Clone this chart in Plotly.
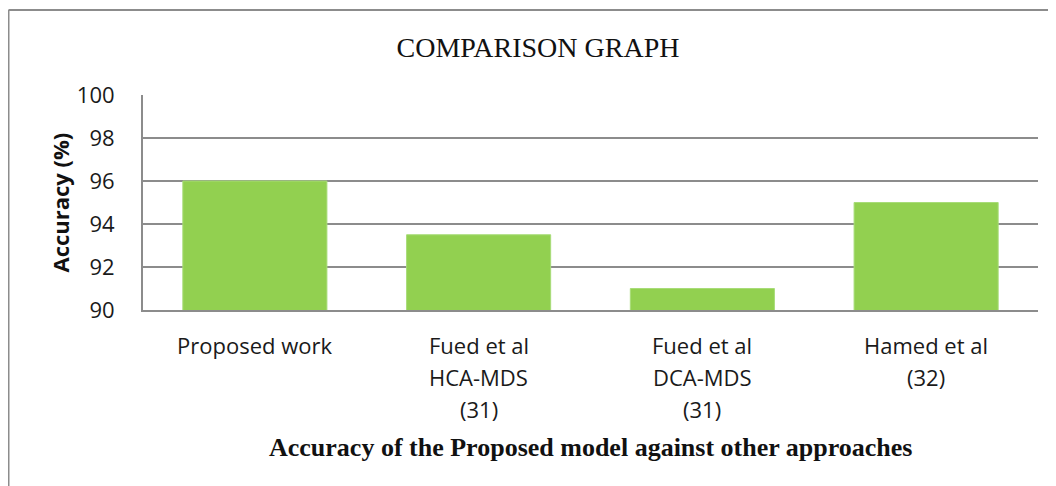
import plotly.graph_objects as go

# 数据
categories = ["Proposed work", "Fued et al HCA-MDS (31)", "Fued et al DCA-MDS (31)", "Hamed et al (32)"]
label_lines = [["Proposed work"], ["Fued et al", "HCA-MDS", "(31)"], ["Fued et al", "DCA-MDS", "(31)"], ["Hamed et al", "(32)"]]
accuracy = [96, 93.5, 91, 95]
y_ticks = [90, 92, 94, 96, 98, 100]

bar_color = "#92D050"
grid_color = "#8c8c8c"
sans = "'Open Sans', sans-serif"
serif = "'Liberation Serif', 'Times New Roman', serif"

# 页面 body 有 8px 边距，这里按 1048x478 的画布来排版
W, H = 1048, 478
L, R, T, B = 135, 18, 87, 176
pw, ph = W - L - R, H - T - B

fig = go.Figure()
fig.add_trace(go.Bar(
    x=categories,
    y=accuracy,
    marker=dict(color=bar_color, line=dict(color="#a8dc78", width=1)),
    showlegend=False
))

# 多行的类别标签（逐行放置，行距更大）
annotations = []
for cat, lines in zip(categories, label_lines):
    for i, line in enumerate(lines):
        annotations.append(dict(
            x=cat, xref="x", y=0, yref="paper",
            text=line, showarrow=False,
            yanchor="middle", yshift=-35 - i * 32,
            font=dict(family=sans, size=22, color="#1a1a1a")
        ))

annotations.append(dict(
    x=0.5, xref="paper", y=0, yref="paper",
    text="<b>Accuracy of the Proposed model against other approaches</b>",
    showarrow=False, yanchor="middle", yshift=-137,
    font=dict(family=serif, size=26, color="#111")
))
annotations.append(dict(
    x=0, xref="paper", y=0.5, yref="paper",
    text="<b>Accuracy (%)</b>", textangle=-90,
    showarrow=False, xanchor="center", xshift=-84,
    font=dict(family=sans, size=22, color="#111")
))

# 外框位置（画布像素 -> paper 坐标）
frame_x = (0.5 - L) / pw
frame_y = (ph + T - 2) / ph

fig.update_layout(
    width=W, height=H,
    margin=dict(l=L, r=R, t=T, b=B),
    paper_bgcolor="white",
    plot_bgcolor="white",
    bargap=0.356,
    title=dict(
        text="COMPARISON GRAPH",
        x=530 / W, xanchor="center", xref="container",
        y=1 - 39 / H, yanchor="middle",
        font=dict(family=serif, size=28, color="#111")
    ),
    annotations=annotations,
    shapes=[
        # 外框（左、上）
        dict(type="line", xref="paper", yref="paper",
             x0=frame_x, x1=1.2, y0=frame_y, y1=frame_y,
             line=dict(color=grid_color, width=2)),
        dict(type="line", xref="paper", yref="paper",
             x0=frame_x, x1=frame_x, y0=-1.0, y1=frame_y,
             line=dict(color=grid_color, width=2)),
    ]
)

fig.update_xaxes(
    showticklabels=False,
    showline=True, linecolor=grid_color, linewidth=2,
    showgrid=False, ticks=""
)
fig.update_yaxes(
    range=[90, 100],
    tickvals=y_ticks,
    showline=True, linecolor=grid_color, linewidth=2,
    showgrid=True, gridcolor=grid_color, gridwidth=2,
    ticks="", ticklabelstandoff=22,
    tickfont=dict(family=sans, size=22, color="#1a1a1a"),
    zeroline=False
)

fig.write_html("out.html")
